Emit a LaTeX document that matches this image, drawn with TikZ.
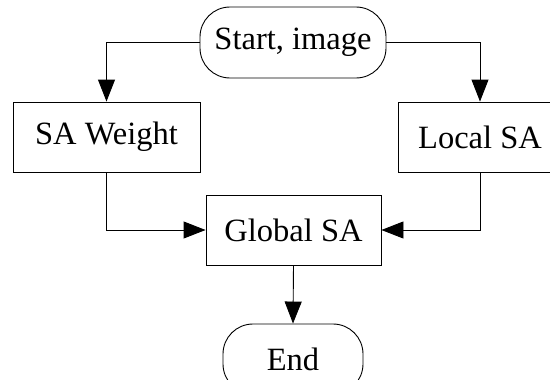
\documentclass[tikz,border=0pt]{standalone}
\usepackage{fontspec}
\setmainfont{Liberation Serif}
\usetikzlibrary{arrows.meta}
\begin{document}
\begin{tikzpicture}[x=1pt,y=-1pt,
  box/.style={draw, line width=0.9pt, rectangle, inner sep=0pt, font=\fontsize{32.5}{38}\selectfont},
  term/.style={box, rounded corners=30pt},
  conn/.style={line width=0.9pt, -{Triangle[length=22pt,width=17pt]}}]
\useasboundingbox (0,0) rectangle (550,380);
\clip (0,0) rectangle (550,380);
\node[term, minimum width=186pt, minimum height=71pt] (start) at (293,42.5) {Start, image};
\node[box, minimum width=187pt, minimum height=70pt] (sa) at (106.5,137) {SA Weight};
\node[box, minimum width=164pt, minimum height=70pt] (local) at (480,137) {Local SA};
\node[box, minimum width=175pt, minimum height=70pt] (global) at (293.5,230) {Global SA};
\node[term, minimum width=140pt, minimum height=70pt] (end) at (293,359) {End};
\draw[conn] (start.west) -| (sa.north);
\draw[conn] (start.east) -| (local.north);
\draw[conn] (sa.south) |- (global.west);
\draw[conn] (local.south) |- (global.east);
\draw[conn] (global.south) -- (end.north);
\end{tikzpicture}
\end{document}
